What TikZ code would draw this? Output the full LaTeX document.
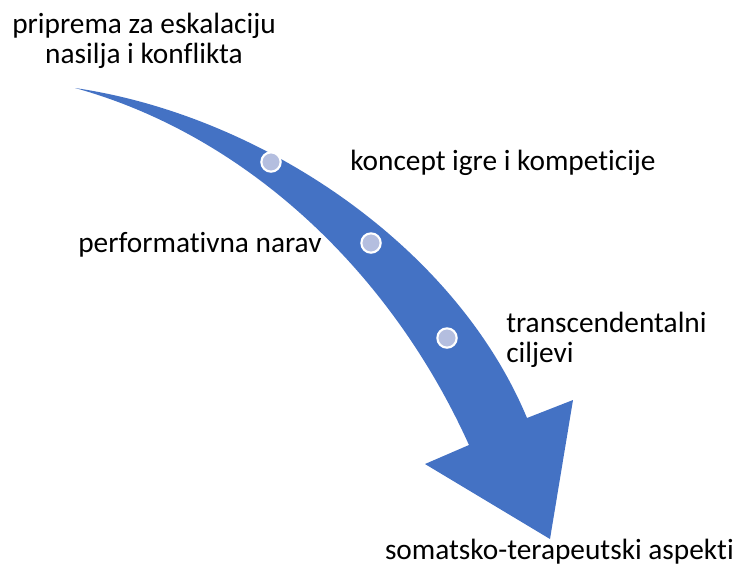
\documentclass[tikz,border=0pt]{standalone}
\usepackage{fontspec}
\setmainfont{Carlito}[RawFeature=-liga]
\definecolor{arrowblue}{HTML}{4472C4}
\definecolor{dotfill}{HTML}{B4BEDF}
\begin{document}
\begin{tikzpicture}[x=0.75pt,y=-0.75pt,
  lbl/.style={inner sep=0pt,font=\fontsize{22}{26}\selectfont,text=black},
  dot/.style={circle,fill=dotfill,draw=white,line width=1.6pt,minimum size=14.5pt,inner sep=0pt}]
\useasboundingbox (0,0) rectangle (739,565);
% arrow outline
\coordinate (tail) at (75,88);
\coordinate (shr) at (527,418);
\coordinate (hr) at (573,400);
\coordinate (tip) at (550,539);
\coordinate (hl) at (425,464);
\coordinate (shl) at (469,445);
\fill[arrowblue] (tail) .. controls (260,115) and (455,245) .. (shr)
  -- (hr) -- (tip) -- (hl) -- (shl)
  .. controls (390,270) and (245,135) .. (tail) -- cycle;
% dots
\node[dot] (d1) at (271,162) {};
\node[dot] (d2) at (371,243) {};
\node[dot] (d3) at (447,338) {};
% labels
\node[lbl,anchor=base] (t1a) at (144,33) {priprema za eskalaciju};
\node[lbl,anchor=base] (t1b) at (144,63) {nasilja i konflikta};
\node[lbl,anchor=base west] (t2) at (350,170) {koncept igre i kompeticije};
\node[lbl,anchor=base west] (t3) at (78,252) {performativna narav};
\node[lbl,anchor=base west] (t4a) at (506,332) {transcendentalni};
\node[lbl,anchor=base west] (t4b) at (506,362) {ciljevi};
\node[lbl,anchor=base east] (t5) at (734,559) {somatsko-terapeutski aspekti};
\end{tikzpicture}
\end{document}
